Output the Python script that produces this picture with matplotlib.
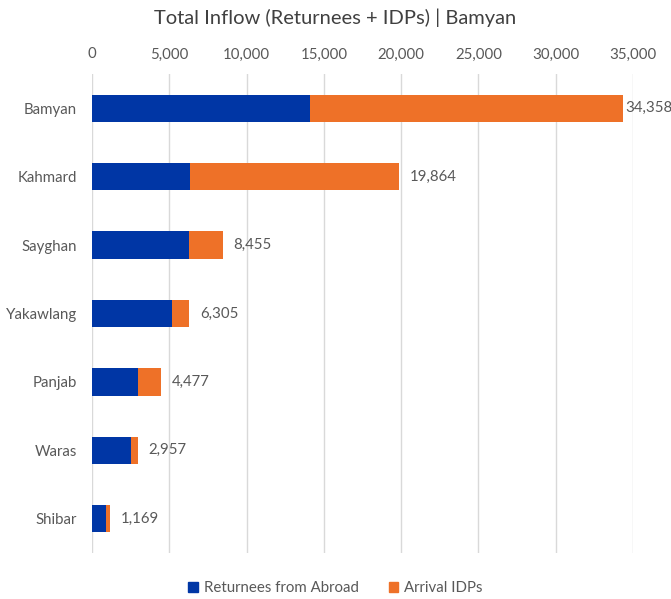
import matplotlib.pyplot as plt
from matplotlib.patches import Patch

# data -----------------------------------------------------------------------
districts = ["Bamyan", "Kahmard", "Sayghan", "Yakawlang", "Panjab", "Waras", "Shibar"]
returnees = [14100, 6340, 6270, 5200, 2975, 2545, 905]
totals = [34358, 19864, 8455, 6305, 4477, 2957, 1169]
idps = [t - r for t, r in zip(totals, returnees)]

BLUE = "#0036A5"
ORANGE = "#EE7128"
GREY_TXT = "#595959"
GRID = "#D9D9D9"

plt.rcParams["font.family"] = ["Lato", "DejaVu Sans"]

fig = plt.figure(figsize=(6.71, 5.99), dpi=100)
ax = fig.add_axes([92 / 671, 1 - 553 / 599, 541 / 671, 479 / 599])

y = list(range(len(districts)))
ax.barh(y, returnees, height=0.4, color=BLUE, zorder=3)
ax.barh(y, idps, left=returnees, height=0.4, color=ORANGE, zorder=3)

ax.set_xlim(0, 35000)
ax.set_ylim(len(districts) - 0.5, -0.5)
ax.set_xticks(range(0, 35001, 5000))
ax.xaxis.set_major_formatter(plt.FuncFormatter(lambda v, _: f"{int(v):,}"))
ax.xaxis.tick_top()
ax.tick_params(axis="x", length=0, pad=9, labelsize=10.8, labelcolor=GREY_TXT)
ax.set_yticks(y)
ax.set_yticklabels(districts)
ax.tick_params(axis="y", length=0, pad=11, labelsize=10.8, labelcolor=GREY_TXT)

ax.grid(axis="x", color=GRID, lw=1, zorder=0)
for s in ax.spines.values():
    s.set_visible(False)

# value labels at the bar ends
for yi, t in zip(y, totals):
    pad = 11 if t < 32000 else 2
    ax.annotate(f"{t:,}", (t, yi), xytext=(pad * 0.72, 0), textcoords="offset points",
                ha="left", va="center", fontsize=10.8, color=GREY_TXT, zorder=4)

fig.text(0.5, 1 - 18 / 599, "Total Inflow (Returnees + IDPs) | Bamyan",
         ha="center", va="center", fontsize=14.5, color="#404040")

handles = [Patch(color=BLUE, label="Returnees from Abroad"),
           Patch(color=ORANGE, label="Arrival IDPs")]
fig.legend(handles=handles, loc="center", bbox_to_anchor=(0.5, 1 - 588 / 599), ncol=2,
           frameon=False, fontsize=10.8, labelcolor=GREY_TXT, handlelength=0.65,
           handleheight=0.65, handletextpad=0.4, columnspacing=2.0)

fig.savefig("out.png", dpi=100)
